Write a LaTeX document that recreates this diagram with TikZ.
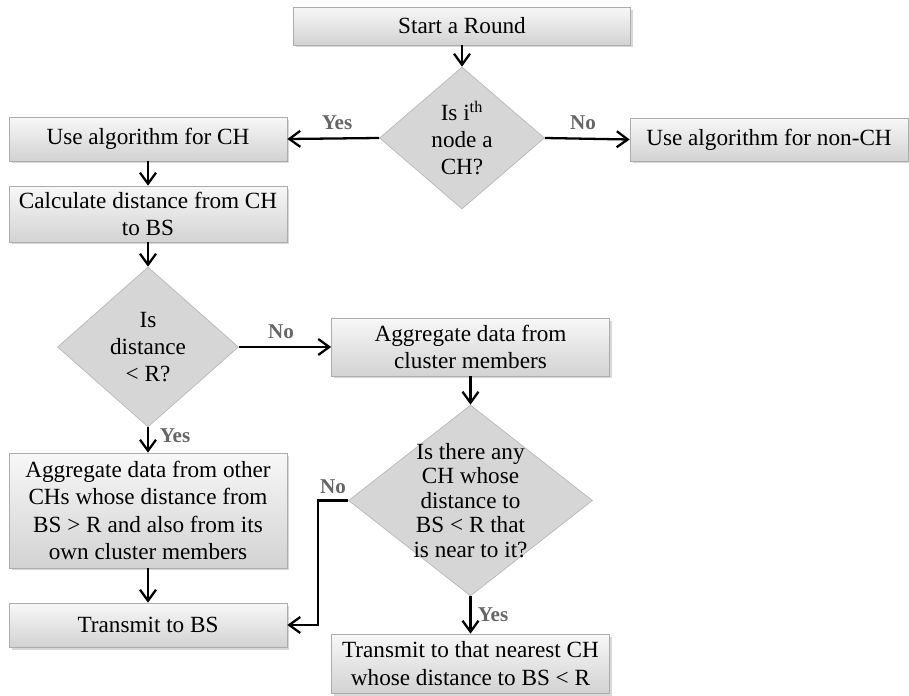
\documentclass[tikz,border=0pt]{standalone}
\usepackage{fontspec}
\setmainfont{Liberation Serif}
\usepackage{tikz}
\usetikzlibrary{arrows.meta}
\usetikzlibrary{positioning,shapes,shadows}
\tikzset{
    stepbox/.style={
        draw=gray!65,
        rectangle,
        top color=gray!6,
        bottom color=gray!35,
        drop shadow={shadow xshift=0.05cm, shadow yshift=-0.05cm, fill=gray!60, opacity=0.5},
        align=center,
        inner sep=1pt,
        minimum width=5.56cm,
        font=\fontsize{13.2}{15.5}\selectfont
    },
    decision/.style={
        draw=gray!55,
        diamond,
        fill=gray!32,
        inner sep=0pt
    },
    question/.style={
        align=center,
        inner sep=0pt,
        font=\fontsize{13.2}{15.5}\selectfont
    },
    answer/.style={
        font=\fontsize{12}{14}\selectfont\bfseries,
        text=black!60
    },
    flow/.style={
        draw,
        -{Straight Barb[length=2.2mm, width=3.2mm]},
        line width=1.3pt
    }
}

\begin{document}
\begin{tikzpicture}[x=0.02cm, y=-0.02cm]
    \useasboundingbox (0,0) rectangle (909,696);

    \node[stepbox, minimum width=6.74cm, minimum height=0.76cm] (start) at (462,26) {Start a Round};
    \node[decision, minimum width=3.3cm, minimum height=2.84cm] (d1) at (462,138) {};
    \node[question] (d1text) at (d1) {Is i\textsuperscript{th}\\node a\\CH?};
    \node[stepbox, minimum height=0.88cm] (ch) at (148,139) {Use algorithm for CH};
    \node[stepbox, minimum height=0.86cm] (nonch) at (769,139.5) {Use algorithm for non-CH};
    \node[stepbox, minimum height=1.12cm] (calc) at (148,214) {Calculate distance from CH\\to BS};
    \node[decision, minimum width=3.62cm, minimum height=3.2cm] (d2) at (148,347) {};
    \node[question] (d2text) at (d2) {Is\\distance\\< R?};
    \node[stepbox, minimum height=1.16cm] (aggc) at (470.5,347) {Aggregate data from\\cluster members};
    \node[stepbox, minimum height=2.3cm] (aggr) at (148,510.5) {Aggregate data from other\\CHs whose distance from\\BS > R and also from its\\own cluster members};
    \node[decision, minimum width=4.88cm, minimum height=3.82cm] (d3) at (470.5,500.5) {};
    \node[question, font=\fontsize{13.2}{14}\selectfont] (d3text) at (d3) {Is there any\\CH whose\\distance to\\BS < R that\\is near to it?};
    \node[stepbox, minimum height=0.88cm] (tx) at (148,625) {Transmit to BS};
    \node[stepbox, minimum height=1.18cm] (txch) at (470.5,663.5) {Transmit to that nearest CH\\whose distance to BS < R};
    \coordinate (bend) at (318,500.5);

    \node[answer] (yes1) at (337,123) {Yes};
    \node[answer] (no1) at (583,123) {No};
    \node[answer] (no2) at (281,332) {No};
    \node[answer] (yes2) at (175,436) {Yes};
    \node[answer] (no3) at (333,487) {No};
    \node[answer] (yes3) at (493,615) {Yes};

    \draw[flow] (start.south) -- (d1.north);
    \draw[flow] (d1.west) -- (ch.east);
    \draw[flow] (d1.east) -- (nonch.west);
    \draw[flow] (ch.south) -- (calc.north);
    \draw[flow] (calc.south) -- (d2.north);
    \draw[flow] (d2.east) -- (aggc.west);
    \draw[flow] (d2.south) -- (aggr.north);
    \draw[flow] (aggc.south) -- (d3.north);
    \draw[flow] (d3.south) -- (txch.north);
    \draw[flow] (aggr.south) -- (tx.north);
    \draw[flow] (d3.west) -- (bend) |- (tx.east);
\end{tikzpicture}
\end{document}
